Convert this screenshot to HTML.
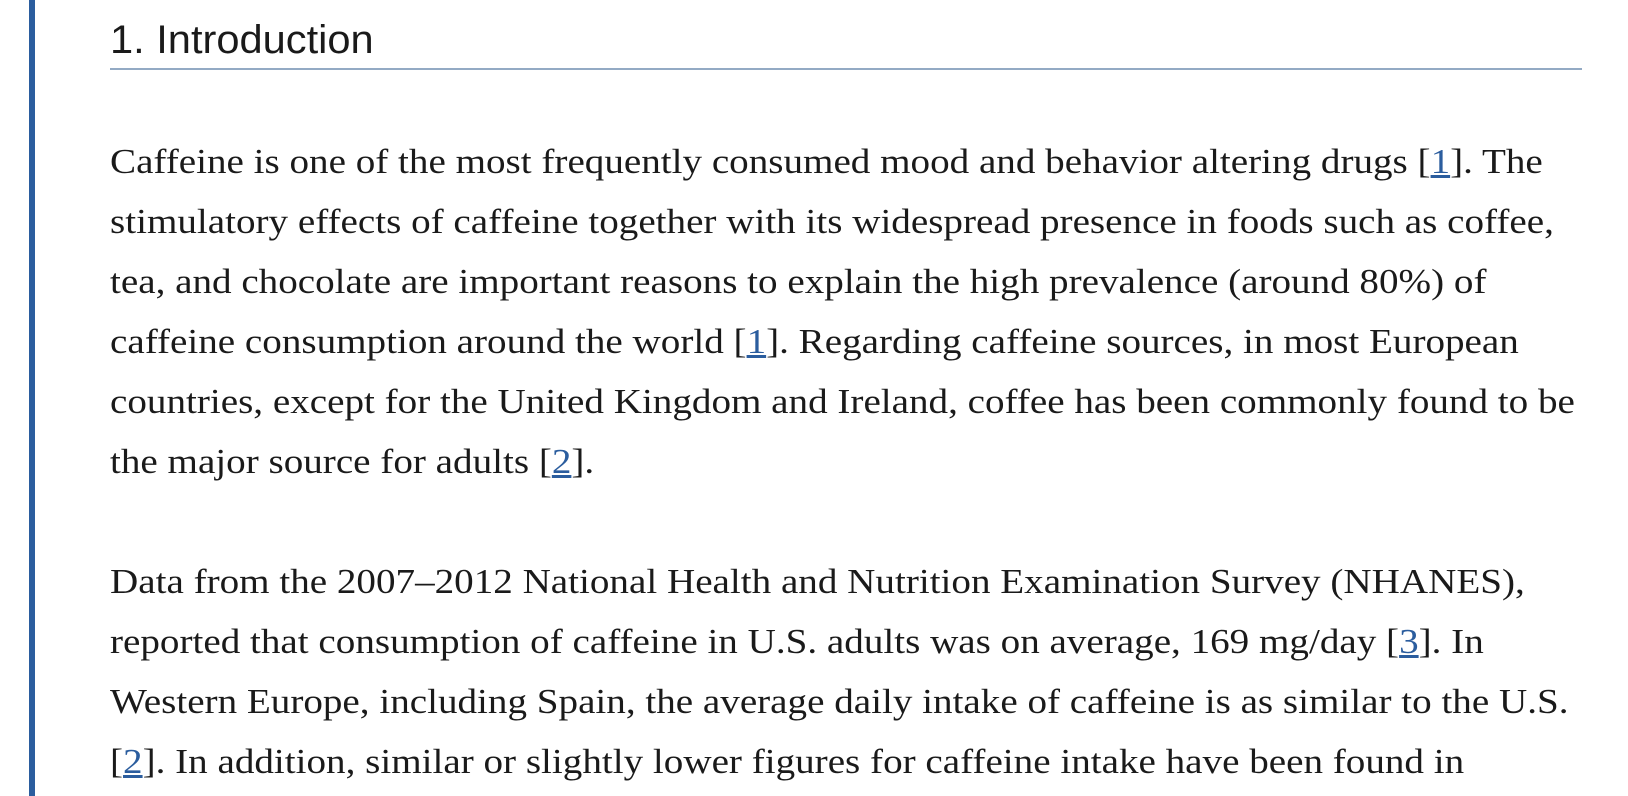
<!DOCTYPE html>
<html><head><meta charset="utf-8"><style>
html,body{margin:0;padding:0;background:#fff;width:1628px;height:796px;overflow:hidden;position:relative}
.bar{position:absolute;left:29px;top:0;width:6px;height:796px;background:#2b5d9e}
h1{position:absolute;left:110px;top:12px;margin:0;font:400 40px/56px "Liberation Sans",sans-serif;color:#1a1a1a;transform:scaleX(1.04);transform-origin:left top;white-space:nowrap}
.rule{position:absolute;left:110px;top:68px;width:1472px;height:2px;background:#93aac4}
.txt{position:absolute;left:110px;top:132px;font:400 35px/60px "Liberation Serif",serif;color:#1a1a1a;white-space:nowrap;transform:scaleX(1.117);transform-origin:left top}
a{color:#2b5d9e;text-decoration:underline}
</style></head><body>
<div class="bar"></div>
<h1>1. Introduction</h1>
<div class="rule"></div>
<div class="txt">Caffeine is one of the most frequently consumed mood and behavior altering drugs [<a>1</a>]. The<br>
stimulatory effects of caffeine together with its widespread presence in foods such as coffee,<br>
tea, and chocolate are important reasons to explain the high prevalence (around 80%) of<br>
caffeine consumption around the world [<a>1</a>]. Regarding caffeine sources, in most European<br>
countries, except for the United Kingdom and Ireland, coffee has been commonly found to be<br>
the major source for adults [<a>2</a>].<br>
&nbsp;<br>
Data from the 2007–2012 National Health and Nutrition Examination Survey (NHANES),<br>
reported that consumption of caffeine in U.S. adults was on average, 169 mg/day [<a>3</a>]. In<br>
Western Europe, including Spain, the average daily intake of caffeine is as similar to the U.S.<br>
[<a>2</a>]. In addition, similar or slightly lower figures for caffeine intake have been found in</div>
</body></html>
